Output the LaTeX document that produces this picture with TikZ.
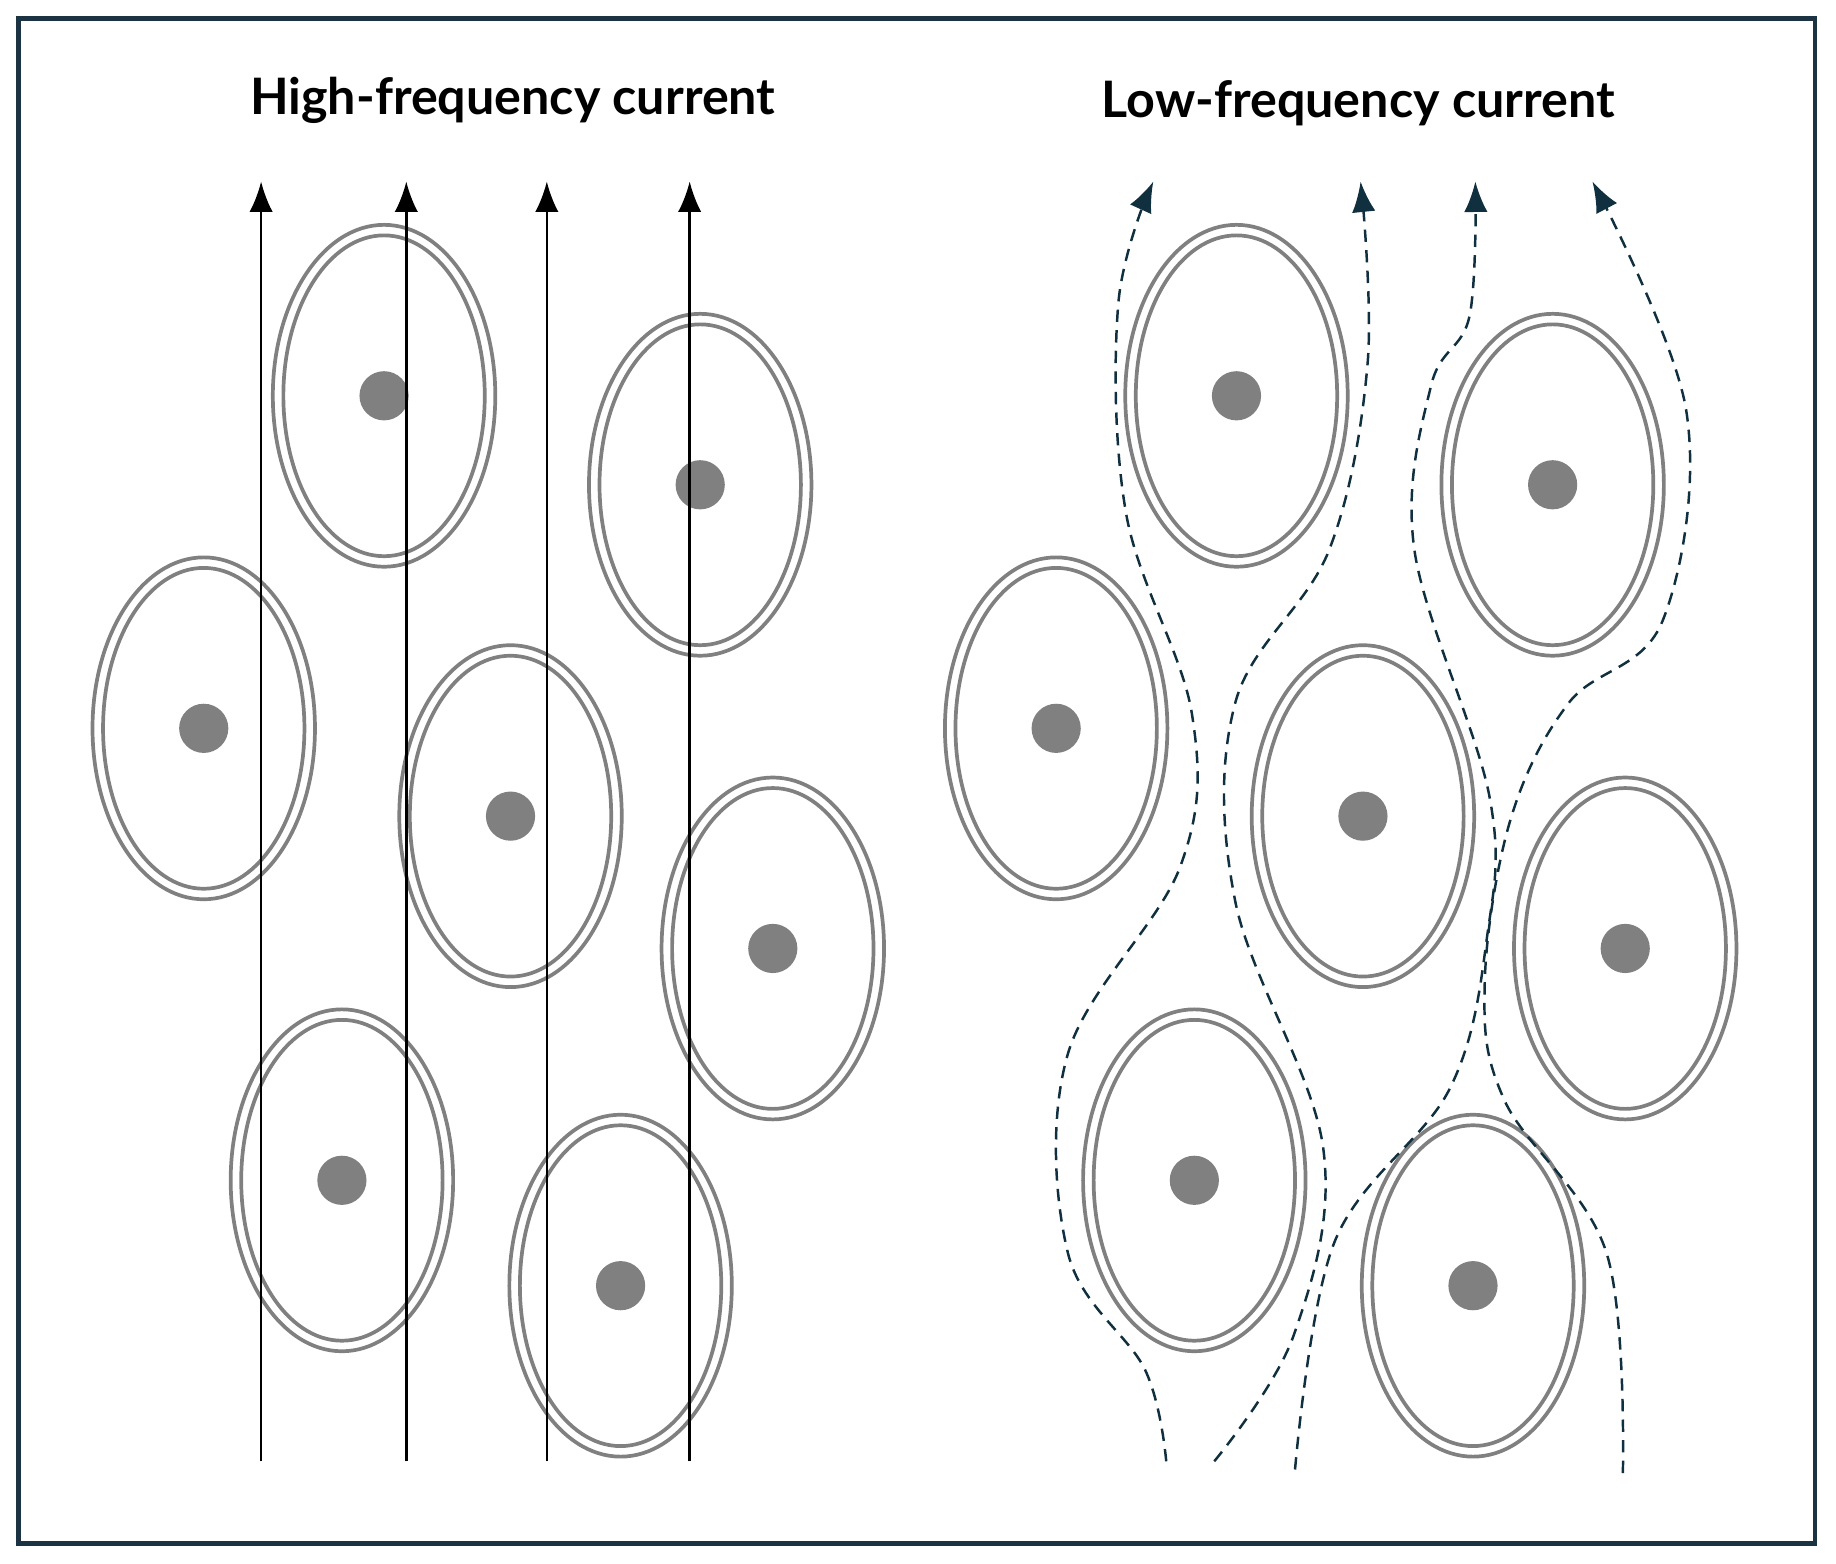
\documentclass[tikz,border=0pt]{standalone}
\usepackage{fontspec}
\setmainfont{Lato}
\usetikzlibrary{arrows.meta}
\definecolor{cellgray}{HTML}{808080}
\definecolor{framecol}{HTML}{1C3344}
\definecolor{pathcol}{HTML}{103040}
\begin{document}
\begin{tikzpicture}[x=0.01cm,y=-0.01cm,
  cellOuter/.style={draw=cellgray,line width=0.9pt},
  nucleus/.style={circle,fill=cellgray,minimum size=0.42cm,inner sep=0pt},
  title/.style={font=\bfseries\fontsize{12.2}{14}\selectfont},
  hfCurrent/.style={-{Latex[length=0.26cm,width=0.2cm]},line width=0.6pt,black},
  lfCurrent/.style={-{Latex[length=0.26cm,width=0.2cm]},line width=0.6pt,pathcol,dashed,dash pattern=on 3pt off 2pt}]

  % frame
  \useasboundingbox (0,0) rectangle (1568,1335);
  \draw[framecol,line width=1.1pt] (16,16) rectangle (1550,1318);

  % titles
  \node[title] (tHigh) at (438,86) {High-frequency current};
  \node[title] (tLow) at (1160,88) {Low-frequency current};

  % cells
  \foreach \name/\cx/\cy in {a/328/338,b/598/414,c/174/622,d/436/697,e/660/810,f/292/1008,g/530/1098}{
    \foreach \dx/\side in {0/L,728/R}{
      \draw[cellOuter] (\cx+\dx,\cy) ellipse [x radius=95,y radius=146];
      \draw[cellOuter] (\cx+\dx,\cy) ellipse [x radius=86,y radius=137];
      \node[nucleus] (n\name\side) at (\cx+\dx,\cy) {};
    }
  }

  % high-frequency current
  \foreach \i/\x in {1/223,2/347,3/467,4/589}{
    \coordinate (hs\i) at (\x,1248);
    \coordinate (he\i) at (\x,155);
    \draw[hfCurrent] (hs\i) -- (he\i);
  }

  % low-frequency current
  \draw[lfCurrent] plot[smooth,tension=0.6] coordinates {(996,1248) (978,1170) (912,1070) (912,900) (1008,740) (1018,610) (962,440) (955,260) (985,155)};
  \draw[lfCurrent] plot[smooth,tension=0.6] coordinates {(1037,1248) (1105,1140) (1130,980) (1055,770) (1055,600) (1135,470) (1168,310) (1162,155)};
  \draw[lfCurrent] plot[smooth,tension=0.6] coordinates {(1106,1255) (1140,1060) (1238,930) (1270,800) (1272,680) (1208,470) (1222,330) (1255,270) (1260,155)};
  \draw[lfCurrent] plot[smooth,tension=0.6] coordinates {(1386,1258) (1372,1070) (1285,940) (1268,840) (1290,700) (1340,600) (1420,530) (1440,350) (1360,155)};
\end{tikzpicture}
\end{document}
